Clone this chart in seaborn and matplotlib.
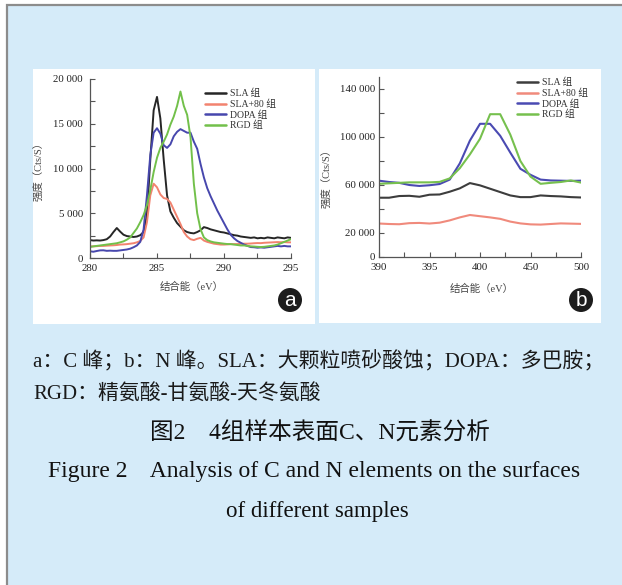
import matplotlib
matplotlib.use("Agg")
import matplotlib.pyplot as plt
from matplotlib.patches import Rectangle
from matplotlib.ticker import MultipleLocator, FuncFormatter, FixedLocator
import seaborn as sns

# ---- data: C peak (panel a) ----
c_energy = [280.0, 280.25, 280.5, 280.75, 281.0, 281.25, 281.5, 281.75,
            282.0, 282.25, 282.5, 282.75, 283.0, 283.25, 283.5, 283.75,
            284.0, 284.25, 284.5, 284.75, 285.0, 285.25, 285.5, 285.75,
            286.0, 286.25, 286.5, 286.75, 287.0, 287.25, 287.5, 287.75,
            288.0, 288.25, 288.5, 288.75, 289.0, 289.25, 289.5, 289.75,
            290.0, 290.25, 290.5, 290.75, 291.0, 291.25, 291.5, 291.75,
            292.0, 292.25, 292.5, 292.75, 293.0, 293.25, 293.5, 293.75,
            294.0, 294.25, 294.5, 294.75, 295.0]
c_sla = [2000, 1950, 1970, 1950, 2000, 2100, 2400, 2900,
         3350, 2950, 2600, 2450, 2400, 2350, 2400, 2550,
         2900, 4800, 11000, 16500, 18000, 15600, 11000, 7000,
         5200, 4500, 3900, 3500, 3100, 2900, 2800, 2750,
         2900, 3100, 3450, 3350, 3200, 3100, 3000, 2900,
         2850, 2750, 2650, 2550, 2500, 2400, 2350, 2300,
         2250, 2300, 2200, 2250, 2200, 2300, 2250, 2200,
         2300, 2250, 2200, 2300, 2250]
c_sla80 = [1300, 1300, 1320, 1350, 1350, 1380, 1400, 1420,
           1450, 1500, 1520, 1550, 1600, 1650, 1750, 1900,
           2300, 4000, 7000, 8300, 7900, 7100, 6700, 6600,
           6200, 5400, 4600, 3800, 2900, 2400, 2100, 2000,
           2150, 2250, 1950, 1800, 1700, 1600, 1550, 1500,
           1500, 1520, 1550, 1550, 1560, 1580, 1600, 1600,
           1620, 1650, 1670, 1660, 1700, 1720, 1740, 1760,
           1780, 1760, 1780, 1750, 1750]
c_dopa = [750, 700, 780, 850, 860, 800, 820, 800,
          800, 850, 900, 950, 1040, 1200, 1400, 1800,
          3200, 7000, 11500, 14000, 14500, 13900, 12600, 12300,
          12700, 13600, 14100, 14400, 14200, 14000, 14000, 13000,
          12200, 10500, 9000, 7800, 6900, 6100, 5300, 4600,
          3900, 3200, 2600, 2200, 1900, 1700, 1500, 1350,
          1220, 1200, 1150, 1180, 1150, 1200, 1250, 1300,
          1350, 1300, 1350, 1300, 1300]
c_rgd = [1230, 1300, 1350, 1400, 1450, 1500, 1550, 1600,
         1650, 1750, 1860, 2050, 2300, 2800, 3300, 4000,
         4800, 5900, 7600, 9600, 11200, 12300, 13000, 13800,
         14900, 15800, 17000, 18600, 17000, 16000, 13500, 8300,
         5000, 3200, 2300, 2000, 1850, 1750, 1700, 1650,
         1600, 1560, 1550, 1500, 1450, 1400, 1400, 1350,
         1300, 1280, 1250, 1230, 1250, 1300, 1350, 1400,
         1500, 1650, 1800, 1950, 2100]

# ---- data: N peak (panel b), axis positions with uneven tick labels ----
n_pos = [0.0, 0.2, 0.4, 0.6, 0.8, 1.0, 1.2, 1.4, 1.6, 1.8, 2.0,
         2.2, 2.4, 2.6, 2.8, 3.0, 3.2, 3.4, 3.6, 3.8, 4.0]
n_tick_pos = [0, 1, 2, 3, 4]
n_tick_labels = ["390", "395", "400", "450", "500"]
n_sla = [49400, 49400, 50800, 51000, 50200, 51900, 52100, 54400, 57200, 61600, 59700,
         56900, 54100, 51300, 49900, 49900, 51300, 50800, 50500, 49900, 49600]
n_sla80 = [27900, 27500, 27300, 28200, 28400, 27900, 28600, 30500, 33000, 35000, 34000,
           33000, 31800, 29500, 28000, 27200, 27000, 27500, 28000, 27800, 27600]
n_dopa = [63600, 62500, 61800, 60000, 59200, 59800, 60800, 64500, 78000, 97000, 111000,
          111000, 101000, 87000, 73500, 68500, 64500, 63800, 63600, 63400, 63600]
n_rgd = [61000, 61400, 61800, 62200, 62200, 62200, 62600, 65500, 74000, 85500, 98500,
         119000, 119000, 102000, 80000, 67000, 61000, 61800, 62500, 63800, 62000]

group_names = ["SLA 组", "SLA+80 组", "DOPA 组", "RGD 组"]
colors_a = ["#262626", "#f2836f", "#4747ad", "#72c04a"]
colors_b = ["#3d3d3d", "#f08a7c", "#4a4ab2", "#76c04e"]

sns.set_style("ticks")
plt.rcParams["font.family"] = ["Liberation Serif", "Noto Sans CJK SC"]
plt.rcParams["axes.unicode_minus"] = False

W, H = 622, 585
fig = plt.figure(figsize=(W / 100, H / 100), dpi=100)
fig.patch.set_facecolor("white")


def px_rect(x0, y0, x1, y1, **kw):
    return Rectangle((x0 / W, 1 - y1 / H), (x1 - x0) / W, (y1 - y0) / H,
                     transform=fig.transFigure, zorder=-10, **kw)


fig.add_artist(px_rect(7, 5, 640, 600, facecolor="#d5ebf9", edgecolor="#8c8c8c", lw=1.6))
fig.add_artist(px_rect(33, 69, 315, 324, facecolor="white", edgecolor="none"))
fig.add_artist(px_rect(319, 69, 601, 323, facecolor="white", edgecolor="none"))

ax_a = fig.add_axes([90 / W, 1 - 258 / H, 201 / W, 179 / H])
ax_b = fig.add_axes([379 / W, 1 - 257 / H, 202 / W, 180 / H])

for name, ys, col in zip(group_names, [c_sla, c_sla80, c_dopa, c_rgd], colors_a):
    sns.lineplot(x=c_energy, y=ys, ax=ax_a, color=col, lw=1.4, label=name, estimator=None)
for name, ys, col in zip(group_names, [n_sla, n_sla80, n_dopa, n_rgd], colors_b):
    sns.lineplot(x=n_pos, y=ys, ax=ax_b, color=col, lw=1.5, label=name, estimator=None)

thousands = FuncFormatter(lambda v, p: f"{int(v):,}".replace(",", " "))

ax_a.set_xlim(280, 295)
ax_a.set_ylim(0, 20000)
ax_a.xaxis.set_major_locator(MultipleLocator(5))
ax_a.xaxis.set_minor_locator(MultipleLocator(2.5))
ax_a.yaxis.set_major_locator(MultipleLocator(5000))
ax_a.yaxis.set_minor_locator(MultipleLocator(2500))
ax_a.yaxis.set_major_formatter(thousands)

ax_b.set_xlim(0, 4)
ax_b.set_ylim(0, 150000)
ax_b.set_xticks(n_tick_pos)
ax_b.set_xticklabels(n_tick_labels)
ax_b.xaxis.set_minor_locator(MultipleLocator(0.5))
ax_b.yaxis.set_major_locator(FixedLocator([0, 20000, 60000, 100000, 140000]))
ax_b.yaxis.set_minor_locator(FixedLocator([40000, 80000, 120000]))
ax_b.yaxis.set_major_formatter(thousands)

for ax, ypad in [(ax_a, 5.0), (ax_b, 3.0)]:
    ax.set_facecolor("none")
    sns.despine(ax=ax)
    for s in ["left", "bottom"]:
        ax.spines[s].set_color("#555555")
        ax.spines[s].set_linewidth(0.9)
    ax.tick_params(axis="both", which="both", direction="in", color="#555555", width=0.8)
    ax.tick_params(axis="both", which="major", length=3.5, labelsize=7.8, labelcolor="#222222")
    ax.tick_params(axis="both", which="minor", length=3.5)
    ax.tick_params(axis="x", pad=4)
    ax.tick_params(axis="y", pad=ypad)
    ax.set_xlabel("结合能（eV）", fontsize=7.5, color="#444444")
    ax.set_ylabel("强度（Cts/S）", fontsize=7.5, color="#444444")

ax_a.xaxis.set_label_coords(0.507, -0.135)
ax_a.yaxis.set_label_coords(-0.225, 0.5)
ax_b.xaxis.set_label_coords(0.507, -0.15)
ax_b.yaxis.set_label_coords(-0.23, 0.45)

leg_a = ax_a.legend(loc="upper left", bbox_to_anchor=(205 / W, 1 - 89 / H),
                    bbox_transform=fig.transFigure, frameon=False, fontsize=7,
                    handlelength=2.2, handletextpad=0.4, labelspacing=0.12,
                    borderpad=0, borderaxespad=0)
leg_b = ax_b.legend(loc="upper left", bbox_to_anchor=(517 / W, 1 - 78 / H),
                    bbox_transform=fig.transFigure, frameon=False, fontsize=7,
                    handlelength=2.2, handletextpad=0.4, labelspacing=0.12,
                    borderpad=0, borderaxespad=0)
for leg in (leg_a, leg_b):
    for t in leg.get_texts():
        t.set_color("#333333")
    for ln in leg.get_lines():
        ln.set_linewidth(1.8)

# panel letters
for lx, ly, letter in [(290, 300, "a"), (581, 300, "b")]:
    fig.text(lx / W, 1 - ly / H, letter, ha="center", va="center", color="white",
             fontsize=15, family="Liberation Sans",
             bbox=dict(boxstyle="circle,pad=0.12", fc="#1c1c1c", ec="none"))

# caption
fig.text(33 / W, 1 - 362 / H, "a：C 峰；b：N 峰。SLA：大颗粒喷砂酸蚀；DOPA：多巴胺；",
         ha="left", va="center", fontsize=15, color="#1a1a1a")
fig.text(33 / W, 1 - 394 / H, "RGD：精氨酸-甘氨酸-天冬氨酸",
         ha="left", va="center", fontsize=15, color="#1a1a1a")
fig.text(320 / W, 1 - 434 / H, "图2　4组样本表面C、N元素分析",
         ha="center", va="center", fontsize=17, color="#111111", weight="medium")
fig.text(314 / W, 1 - 471 / H, "Figure 2    Analysis of C and N elements on the surfaces",
         ha="center", va="center", fontsize=17, color="#111111")
fig.text(317 / W, 1 - 511 / H, "of different samples",
         ha="center", va="center", fontsize=16.5, color="#111111")

fig.savefig("out.png", dpi=100)
